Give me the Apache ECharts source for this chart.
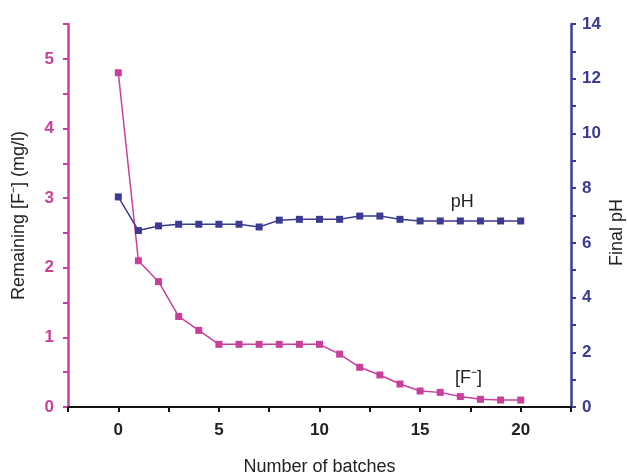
<!DOCTYPE html>
<html>
<head>
<meta charset="utf-8">
<script src="https://cdn.jsdelivr.net/npm/echarts@6/dist/echarts.min.js"></script>
<style>
  html, body { margin: 0; padding: 0; background: #fff; }
  #chart { width: 627px; height: 475px; }
</style>
</head>
<body>
<div id="chart"></div>
<script>
// data
const batches = [0, 1, 2, 3, 4, 5, 6, 7, 8, 9, 10, 11, 12, 13, 14, 15, 16, 17, 18, 19, 20];
const fluoride = [4.8, 2.1, 1.8, 1.3, 1.1, 0.9, 0.9, 0.9, 0.9, 0.9, 0.9, 0.76, 0.57, 0.46, 0.33, 0.23, 0.21, 0.15, 0.11, 0.1, 0.1];
const finalPH = [7.68, 6.45, 6.62, 6.68, 6.68, 6.68, 6.68, 6.58, 6.83, 6.86, 6.86, 6.86, 6.98, 6.98, 6.86, 6.8, 6.8, 6.8, 6.8, 6.8, 6.8];
const xTickLabels = [0, 5, 10, 15, 20];

const pink = '#c8409a';
const navy = '#3b3b93';

const chartDom = document.getElementById('chart');
const myChart = echarts.init(chartDom);

const fontName = 'Liberation Sans, Arial, sans-serif';
const titleFont = { fontFamily: fontName, fontSize: 18, color: '#222' };

const option = {
  animation: false,
  grid: { left: 68, right: 56, top: 24, bottom: 68, containLabel: false, outerBoundsMode: 'none' },
  xAxis: {
    type: 'value',
    min: -2.5,
    max: 22.5,
    interval: 2.5,
    name: 'Number of batches',
    nameLocation: 'middle',
    nameGap: 51,
    nameTextStyle: titleFont,
    axisLine: { onZero: false, lineStyle: { color: '#111', width: 2 } },
    axisTick: { length: 5, lineStyle: { color: '#111', width: 2 } },
    axisLabel: {
      color: '#222',
      margin: 15,
      fontFamily: fontName, fontWeight: 'bold', fontSize: 17,
      formatter: v => xTickLabels.indexOf(v) >= 0 ? String(v) : ''
    },
    splitLine: { show: false }
  },
  yAxis: [
    {
      type: 'value',
      position: 'left',
      min: 0,
      max: 5.5,
      interval: 0.5,
      name: 'Remaining [F\u207B] (mg/l)',
      nameLocation: 'middle',
      nameRotate: 90,
      nameGap: 40,
      nameTextStyle: titleFont,
      axisLine: { show: true, onZero: false, lineStyle: { color: pink, width: 2.5 } },
      axisTick: { show: true, length: 5, lineStyle: { color: pink, width: 2 } },
      axisLabel: {
        color: pink,
        margin: 14,
        fontFamily: fontName, fontWeight: 'bold', fontSize: 17,
        formatter: v => Number.isInteger(v) ? String(v) : ''
      },
      splitLine: { show: false }
    },
    {
      type: 'value',
      position: 'right',
      min: 0,
      max: 14,
      interval: 1,
      name: 'Final pH',
      nameLocation: 'middle',
      nameRotate: 90,
      nameGap: 37,
      nameMoveOverlap: false,
      nameTextStyle: Object.assign({ padding: [0, 34, 0, 0] }, titleFont),
      axisLine: { show: true, onZero: false, lineStyle: { color: navy, width: 2.5 } },
      axisTick: { show: true, length: 5, lineStyle: { color: navy, width: 2 } },
      axisLabel: {
        color: navy,
        margin: 11,
        fontFamily: fontName, fontWeight: 'bold', fontSize: 17,
        formatter: v => v % 2 === 0 ? String(v) : ''
      },
      splitLine: { show: false }
    }
  ],
  series: [
    {
      name: '[F\u207B]',
      type: 'line',
      yAxisIndex: 0,
      data: batches.map((b, i) => [b, fluoride[i]]),
      symbol: 'rect',
      symbolSize: 7,
      lineStyle: { color: pink, width: 1.5 },
      itemStyle: { color: pink },
      markPoint: {
        symbol: 'rect',
        symbolSize: 0,
        data: [{ coord: [17.4, 0.42] }],
        label: {
          show: true,
          formatter: '[F\u207B]',
          fontFamily: fontName,
          fontSize: 18,
          color: '#222'
        }
      },
      z: 3
    },
    {
      name: 'pH',
      type: 'line',
      yAxisIndex: 1,
      data: batches.map((b, i) => [b, finalPH[i]]),
      symbol: 'rect',
      symbolSize: 7,
      lineStyle: { color: navy, width: 1.5 },
      itemStyle: { color: navy },
      markPoint: {
        symbol: 'rect',
        symbolSize: 0,
        data: [{ coord: [17.1, 7.5] }],
        label: {
          show: true,
          formatter: 'pH',
          fontFamily: fontName,
          fontSize: 18,
          color: '#222'
        }
      },
      z: 4
    }
  ]
};

option && myChart.setOption(option);
</script>
</body>
</html>
